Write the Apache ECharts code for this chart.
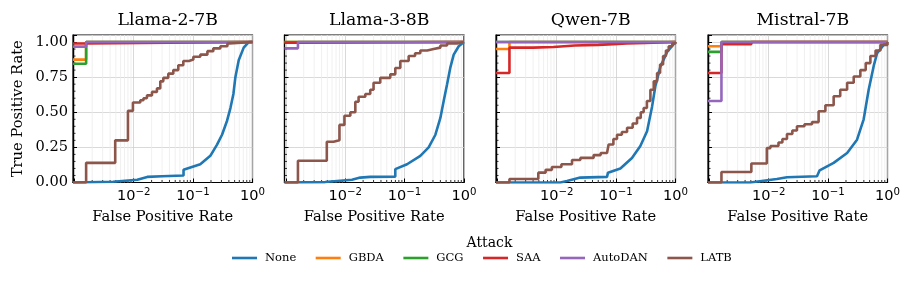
<!DOCTYPE html>
<html>
<head>
<meta charset="utf-8">
<script src="https://cdn.jsdelivr.net/npm/echarts@6/dist/echarts.min.js"></script>
<style>html,body{margin:0;padding:0;background:#fff;}#c{width:914px;height:281px;}</style>
</head>
<body>
<div id="c"></div>
<script>
// ---------------- data ----------------
const panels = ['Llama-2-7B', 'Llama-3-8B', 'Qwen-7B', 'Mistral-7B'];
const attacks = ['None', 'GBDA', 'GCG', 'SAA', 'AutoDAN', 'LATB'];
const X0 = 0.00095; // left end of the FPR axis (curves start here)
const xTickLabels = [0.01, 0.1, 1];
const yTicks = [0, 0.25, 0.5, 0.75, 1.0];
const minorX = [0.002,0.003,0.004,0.005,0.006,0.007,0.008,0.009,
                0.02,0.03,0.04,0.05,0.06,0.07,0.08,0.09,
                0.2,0.3,0.4,0.5,0.6,0.7,0.8,0.9];
const minorY = [0.05,0.1,0.15,0.2,0.3,0.35,0.4,0.45,0.55,0.6,0.65,0.7,0.8,0.85,0.9,0.95];

// Llama-2-7B
const llama2_none = [[X0,0],[0.0045,0.005],[0.0115,0.02],[0.0169,0.04],[0.03,0.045],[0.069,0.05],[0.069,0.09],[0.132,0.13],[0.195,0.19],[0.253,0.27],[0.307,0.34],[0.373,0.44],[0.425,0.53],[0.477,0.63],[0.515,0.75],[0.586,0.87],[0.711,0.96],[0.863,1.0],[1,1]];
const llama2_gbda = [[X0,0.875],[0.00158,1],[1,1]];
const llama2_gcg = [[X0,0.845],[0.00158,1],[1,1]];
const llama2_saa = [[X0,0.99],[0.00158,1],[1,1]];
const llama2_autodan = [[X0,0.967],[0.00158,1],[1,1]];
const llama2_latb = [[X0,0],[0.00158,0.14],[0.00488,0.30],[0.008,0.51],[0.0097,0.57],[0.0129,0.585],[0.0146,0.60],[0.0167,0.62],[0.0203,0.645],[0.0246,0.67],[0.028,0.72],[0.0315,0.745],[0.0382,0.775],[0.0464,0.80],[0.0563,0.835],[0.0684,0.865],[0.085,0.875],[0.101,0.895],[0.132,0.91],[0.174,0.935],[0.219,0.955],[0.288,0.97],[0.378,0.99],[0.41,1],[1,1]];

// Llama-3-8B
const llama3_none = [[X0,0],[0.0046,0.003],[0.013,0.02],[0.0179,0.035],[0.0264,0.04],[0.0697,0.042],[0.0697,0.095],[0.11,0.13],[0.184,0.19],[0.254,0.25],[0.33,0.34],[0.40,0.46],[0.455,0.58],[0.519,0.70],[0.59,0.82],[0.671,0.91],[0.815,0.97],[1,1]];
const llama3_gbda = [[X0,1],[1,1]];
const llama3_gcg = [[X0,1],[1,1]];
const llama3_saa = [[X0,0.995],[0.0015,1],[1,1]];
const llama3_autodan = [[X0,0.955],[0.0016,1],[1,1]];
const llama3_latb = [[X0,0],[0.0016,0.155],[0.0049,0.29],[0.00635,0.30],[0.008,0.41],[0.0097,0.475],[0.0122,0.50],[0.0148,0.575],[0.0168,0.61],[0.0218,0.63],[0.0264,0.66],[0.030,0.71],[0.0389,0.745],[0.0574,0.77],[0.0697,0.815],[0.0847,0.865],[0.117,0.90],[0.15,0.92],[0.184,0.94],[0.24,0.95],[0.308,0.96],[0.4,0.975],[0.519,0.99],[0.765,1],[1,1]];

// Qwen-7B
const qwen_none = [[X0,0],[0.0115,0],[0.0149,0.01],[0.0249,0.035],[0.0703,0.04],[0.073,0.07],[0.118,0.10],[0.185,0.175],[0.256,0.26],[0.332,0.365],[0.403,0.54],[0.458,0.685],[0.557,0.825],[0.723,0.93],[1,1]];
const qwen_gbda = [[X0,0.95],[0.0016,1],[1,1]];
const qwen_gcg = [[X0,1],[1,1]];
const qwen_saa = [[X0,0.78],[0.0016,0.96],[0.004,0.965],[0.0088,0.975],[0.02,0.98],[0.05,0.985],[0.0897,0.99],[0.15,0.993],[0.311,1],[1,1]];
const qwen_autodan = [[X0,1],[1,1]];
const qwen_latb = [[X0,0],[0.0016,0.025],[0.0049,0.07],[0.0065,0.09],[0.0083,0.11],[0.012,0.13],[0.0181,0.16],[0.025,0.175],[0.0418,0.195],[0.055,0.21],[0.0703,0.22],[0.0748,0.27],[0.09,0.31],[0.1036,0.34],[0.125,0.36],[0.153,0.39],[0.19,0.42],[0.225,0.46],[0.26,0.50],[0.291,0.53],[0.33,0.58],[0.378,0.66],[0.43,0.72],[0.49,0.78],[0.55,0.84],[0.618,0.90],[0.69,0.94],[0.769,0.97],[0.88,0.99],[1,1]];

// Mistral-7B
const mistral_none = [[X0,0],[0.0049,0],[0.0137,0.025],[0.0203,0.037],[0.065,0.045],[0.072,0.087],[0.124,0.14],[0.209,0.21],[0.307,0.305],[0.397,0.45],[0.482,0.66],[0.586,0.83],[0.668,0.92],[0.863,0.98],[1,1]];
const mistral_gbda = [[X0,0.97],[0.0016,1],[1,1]];
const mistral_gcg = [[X0,0.93],[0.0016,1],[1,1]];
const mistral_saa = [[X0,0.78],[0.0016,0.985],[0.0051,1],[1,1]];
const mistral_autodan = [[X0,0.58],[0.0016,1],[1,1]];
const mistral_latb = [[X0,0],[0.0016,0.075],[0.0051,0.135],[0.0093,0.245],[0.0107,0.26],[0.0146,0.285],[0.017,0.31],[0.0203,0.345],[0.025,0.37],[0.0299,0.40],[0.04,0.415],[0.0536,0.43],[0.0692,0.507],[0.09,0.55],[0.124,0.614],[0.16,0.66],[0.209,0.71],[0.27,0.755],[0.349,0.80],[0.43,0.85],[0.515,0.90],[0.63,0.94],[0.76,0.98],[1,1]];

const curves = [
  [llama2_none, llama2_gbda, llama2_gcg, llama2_saa, llama2_autodan, llama2_latb],
  [llama3_none, llama3_gbda, llama3_gcg, llama3_saa, llama3_autodan, llama3_latb],
  [qwen_none, qwen_gbda, qwen_gcg, qwen_saa, qwen_autodan, qwen_latb],
  [mistral_none, mistral_gbda, mistral_gcg, mistral_saa, mistral_autodan, mistral_latb]
];

// ---------------- style ----------------
const colors = ['#1f77b4', '#ff7f0e', '#2ca02c', '#d62728', '#9467bd', '#8c564b'];
const SERIF = 'DejaVu Serif';
const SANS = 'DejaVu Sans';
const gridLeft = [73, 284.5, 496, 708];
const GW = 179.5, GT = 35, GH = 147.5;
const YMAX = 1.05;
const LW = 2.6;

const grids = [], xAxes = [], yAxes = [], series = [], titles = [];

function xLabel(v) {
  const e = Math.log10(v);
  const r = Math.round(e);
  if (Math.abs(e - r) > 1e-6) return '';
  if (!xTickLabels.some(t => Math.abs(Math.log10(t) - r) < 1e-6)) return '';
  const s = r < 0 ? '\u2212' + (-r) : String(r);
  return '{b|10}{s|' + s + '}';
}

panels.forEach((p, i) => {
  grids.push({left: gridLeft[i], top: GT, width: GW, height: GH, show: true,
    borderColor: '#000', borderWidth: 1.2, backgroundColor: 'transparent'});
  titles.push({text: p, left: gridLeft[i] + GW / 2, top: 7, textAlign: 'center',
    textStyle: {fontFamily: SERIF, fontSize: 17.3, fontWeight: 'normal', color: '#000'}});
  xAxes.push({
    type: 'log', logBase: 10, gridIndex: i, min: X0, max: 1,
    axisLine: {show: true, lineStyle: {color: '#000', width: 1.2}},
    axisTick: {show: true, inside: true, length: 4, lineStyle: {color: '#000', width: 1}},
    splitLine: {show: true, lineStyle: {color: '#cfcfcf', width: 0.8}},
    axisLabel: {margin: 5, formatter: xLabel, showMinLabel: true, showMaxLabel: true,
      rich: {
        b: {fontFamily: SANS, fontSize: 14.5, color: '#000', lineHeight: 18},
        s: {fontFamily: SANS, fontSize: 10.2, color: '#000', lineHeight: 10, verticalAlign: 'top'}
      }},
    name: 'False Positive Rate', nameLocation: 'middle', nameGap: 27,
    nameTextStyle: {fontFamily: SERIF, fontSize: 14.7, color: '#000', verticalAlign: 'top'}
  });
  yAxes.push({
    type: 'value', gridIndex: i, min: 0, max: YMAX, interval: 0.25,
    axisLine: {show: true, lineStyle: {color: '#000', width: 1.2}},
    axisTick: {show: true, inside: true, length: 4, lineStyle: {color: '#000', width: 1}},
    splitLine: {show: true, lineStyle: {color: '#cfcfcf', width: 0.8}},
    axisLabel: {show: i === 0, margin: 5, fontFamily: SERIF, fontSize: 14.6, color: '#000',
      formatter: v => (yTicks.some(t => Math.abs(t - v) < 1e-6) ? v.toFixed(2) : '')},
    name: i === 0 ? 'True Positive Rate' : '', nameLocation: 'middle', nameGap: 47, nameRotate: 90,
    nameTextStyle: {fontFamily: SERIF, fontSize: 14.7, color: '#000'}
  });
  // minor x grid + ticks
  series.push({
    type: 'custom', xAxisIndex: i, yAxisIndex: i, z: 1, silent: true,
    data: minorX.map(v => [v, 0]),
    renderItem: (params, api) => {
      const v = api.value(0);
      const b = api.coord([v, 0]);
      const t = api.coord([v, YMAX]);
      return {type: 'group', children: [
        {type: 'line', shape: {x1: b[0], y1: b[1], x2: t[0], y2: t[1]}, style: {stroke: '#ececec', lineWidth: 0.8}},
        {type: 'line', shape: {x1: b[0], y1: b[1], x2: b[0], y2: b[1] - 2.5}, style: {stroke: '#000', lineWidth: 0.8}}
      ]};
    }
  });
  // minor y ticks
  series.push({
    type: 'custom', xAxisIndex: i, yAxisIndex: i, z: 1, silent: true,
    data: minorY.map(v => [X0, v]),
    renderItem: (params, api) => {
      const pt = api.coord([X0, api.value(1)]);
      return {type: 'line', shape: {x1: pt[0], y1: pt[1], x2: pt[0] + 2.5, y2: pt[1]}, style: {stroke: '#000', lineWidth: 0.8}};
    }
  });
  attacks.forEach((a, k) => {
    series.push({
      type: 'line', name: a, xAxisIndex: i, yAxisIndex: i, z: 3 + k,
      data: curves[i][k], symbol: 'none', showSymbol: false,
      step: (a === 'None') ? false : 'end',
      color: colors[k],
      lineStyle: {color: colors[k], width: LW},
      animation: false
    });
  });
});

titles.push({text: 'Attack', left: 484.5, top: 231, textAlign: 'center',
  textStyle: {fontFamily: SERIF, fontSize: 14, fontWeight: 'normal', color: '#000'}});

const option = {
  backgroundColor: '#fff',
  animation: false,
  title: titles,
  grid: grids,
  xAxis: xAxes,
  yAxis: yAxes,
  legend: {
    data: attacks, left: 232, top: 252, padding: 0, itemGap: 19.5, itemWidth: 25, itemHeight: 2.6,
    icon: 'rect',
    textStyle: {fontFamily: SERIF, fontSize: 11.5, color: '#000', padding: [0, 0, 0, 3]},
    selectedMode: false
  },
  series: series
};

const chart = echarts.init(document.getElementById('c'), null, {renderer: 'canvas'});
chart.setOption(option);
</script>
</body>
</html>
